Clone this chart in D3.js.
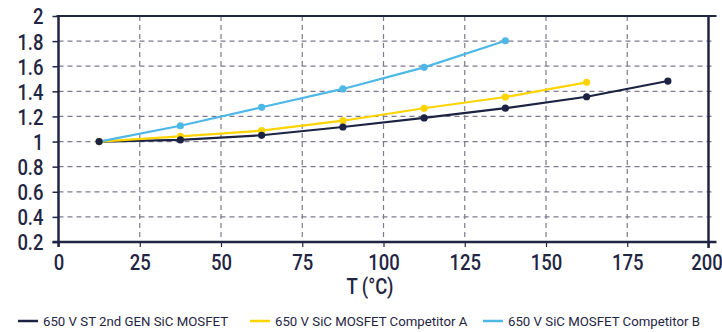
<!DOCTYPE html>
<html>
<head>
<meta charset="utf-8">
<script src="https://cdn.jsdelivr.net/npm/d3@7"></script>
<style>
  html, body { margin: 0; padding: 0; background: #fff; }
  svg { display: block; }
  text { font-family: Roboto, "Liberation Sans", sans-serif; fill: #1f2543; }
</style>
</head>
<body>
<svg id="chart" width="722" height="332"></svg>
<script>
// Normalised on-resistance vs junction temperature
const temps = [12.5, 37.5, 62.5, 87.5, 112.5, 137.5, 162.5, 187.5];
const stGen2 = [1.0, 1.013, 1.05, 1.116, 1.188, 1.266, 1.357, 1.482];
const compA = [1.0, 1.042, 1.087, 1.166, 1.265, 1.355, 1.472];
const compB = [1.0, 1.126, 1.273, 1.419, 1.591, 1.803];
const seriesNames = ["650 V ST 2nd GEN SiC MOSFET", "650 V SiC MOSFET Competitor A", "650 V SiC MOSFET Competitor B"];
const seriesColors = ["#1c2242", "#ffd400", "#4db7e5"];
const xTicks = [0, 25, 50, 75, 100, 125, 150, 175, 200];
const yTicks = [0.2, 0.4, 0.6, 0.8, 1, 1.2, 1.4, 1.6, 1.8, 2];
const xTitle = "T (°C)";

const series = [stGen2, compA, compB].map((vals, i) => ({
  name: seriesNames[i],
  color: seriesColors[i],
  points: vals.map((v, j) => ({ t: temps[j], v }))
}));

const svg = d3.select("#chart");
const plotL = 58.5, plotR = 708.5, plotT = 16, plotB = 242;
const x = d3.scaleLinear().domain([0, 200]).range([plotL, plotR]);
const y = d3.scaleLinear().domain([0.2, 2]).range([plotB, plotT]);
const axisColor = "#1f2543";
const condense = 0.84; // narrow look for the axis labels

// dashed grid
const grid = svg.append("g");
grid.selectAll("line.gx").data(xTicks.filter(d => d > 0 && d < 200)).join("line")
  .attr("x1", d => x(d)).attr("x2", d => x(d)).attr("y1", plotT).attr("y2", plotB)
  .attr("stroke", "#7d7a8e").attr("stroke-width", 1.2).attr("stroke-dasharray", "5,4");
grid.selectAll("line.gy").data(yTicks.filter(d => d > 0.2 && d < 2)).join("line")
  .attr("x1", plotL).attr("x2", plotR + 6).attr("y1", d => y(d)).attr("y2", d => y(d))
  .attr("stroke", "#7d7a8e").attr("stroke-width", 1.2).attr("stroke-dasharray", "5,4");

// axes
const yAxis = d3.axisLeft(y).tickValues(yTicks).tickSize(6).tickFormat(d3.format("~g"));
const gy = svg.append("g").attr("transform", `translate(${plotL},0)`).call(yAxis);
gy.select(".domain").remove();
gy.selectAll(".tick line").attr("stroke", axisColor).attr("stroke-width", 1.5);
gy.selectAll(".tick text")
  .attr("x", 0).attr("dy", "0.36em")
  .attr("transform", `translate(-15,0) scale(${condense},1)`)
  .style("font-size", "22px").style("font-weight", 500).attr("fill", axisColor);

const xAxis = d3.axisBottom(x).tickValues(xTicks).tickSize(5).tickFormat(d3.format("d"));
const gx = svg.append("g").attr("transform", `translate(0,${plotB})`).call(xAxis);
gx.select(".domain").remove();
gx.selectAll(".tick line").attr("stroke", axisColor).attr("stroke-width", 1.2);
gx.selectAll(".tick text")
  .attr("y", 28).attr("dy", 0)
  .attr("transform", d => `translate(${d === 200 ? -2 : 0},0) scale(${condense},1)`)
  .style("font-size", "22px").style("font-weight", 500).attr("fill", axisColor);

// frame
const frame = svg.append("g").attr("stroke", axisColor).attr("stroke-width", 2.5).attr("fill", "none");
frame.append("line").attr("x1", plotL).attr("x2", plotL).attr("y1", plotT).attr("y2", plotB + 5);
frame.append("line").attr("x1", plotL - 2).attr("x2", plotR + 8).attr("y1", plotT).attr("y2", plotT).attr("stroke-width", 2);
frame.append("line").attr("x1", plotR).attr("x2", plotR).attr("y1", plotT).attr("y2", plotB + 6);
frame.append("line").attr("x1", plotL - 6).attr("x2", plotR + 8).attr("y1", plotB).attr("y2", plotB);

// series lines and markers
const line = d3.line().x(d => x(d.t)).y(d => y(d.v));
const sg = svg.append("g");
series.forEach(s => {
  sg.append("path").datum(s.points).attr("d", line)
    .attr("fill", "none").attr("stroke", s.color).attr("stroke-width", 2.2);
});
series.slice().reverse().forEach(s => {
  sg.append("g").selectAll("circle").data(s.points).join("circle")
    .attr("cx", d => x(d.t)).attr("cy", d => y(d.v)).attr("r", 3.6).attr("fill", s.color);
});

// axis title
svg.append("text").attr("transform", `translate(370,294) scale(${condense},1)`)
  .attr("text-anchor", "middle")
  .style("font-size", "22px").style("font-weight", 500).text(xTitle);

// legend
const legendX = [18, 250, 483];
const lg = svg.append("g");
series.forEach((s, i) => {
  lg.append("line").attr("x1", legendX[i]).attr("x2", legendX[i] + 20).attr("y1", 321).attr("y2", 321)
    .attr("stroke", s.color).attr("stroke-width", 2.5);
  lg.append("text").attr("transform", `translate(${legendX[i] + 25},326) scale(0.98,1)`)
    .style("font-size", "13.5px").text(s.name);
});
</script>
</body>
</html>
